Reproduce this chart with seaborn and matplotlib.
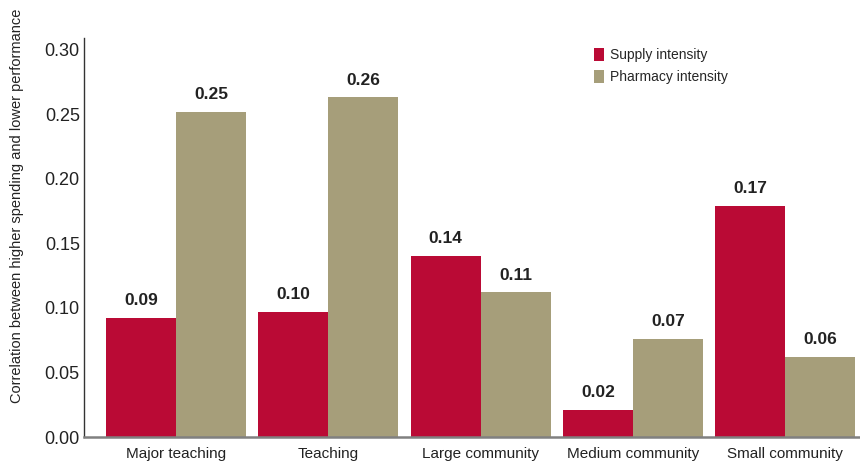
import matplotlib
matplotlib.use("Agg")
import matplotlib.pyplot as plt
import seaborn as sns
import pandas as pd
from matplotlib.patches import Patch

categories = ["Major teaching", "Teaching", "Large community", "Medium community", "Small community"]
supply = [0.092, 0.097, 0.140, 0.021, 0.179]
pharmacy = [0.252, 0.263, 0.112, 0.076, 0.062]
supply_labels = ["0.09", "0.10", "0.14", "0.02", "0.17"]
pharmacy_labels = ["0.25", "0.26", "0.11", "0.07", "0.06"]
series = ["Supply intensity", "Pharmacy intensity"]
yticks = [0.00, 0.05, 0.10, 0.15, 0.20, 0.25, 0.30]
ylabel = "Correlation between higher spending and lower performance"

colors = ["#BA0A35", "#A69E7A"]

sns.set_theme(style="white")
plt.rcParams["font.family"] = ["Liberation Sans", "DejaVu Sans"]

df = pd.DataFrame({
    "category": categories * 2,
    "series": [series[0]] * len(categories) + [series[1]] * len(categories),
    "value": supply + pharmacy,
})

fig = plt.figure(figsize=(8.6, 4.62), dpi=100)
ax = fig.add_axes([0.0977, 0.054, 0.902, 0.864])

sns.barplot(data=df, x="category", y="value", hue="series", order=categories,
            hue_order=series, palette=colors, width=0.92, saturation=1,
            errorbar=None, ax=ax, legend=False, linewidth=0)

ax.set_xlim(-0.605, 4.49)
ax.set_ylim(0, 0.309)
ax.set_yticks(yticks)
ax.set_yticklabels([f"{t:.2f}" for t in yticks], fontsize=13, color="#222222")
ax.tick_params(axis="x", labelsize=11, colors="#222222", length=0, pad=7)
ax.tick_params(axis="y", length=0, pad=3)
ax.set_xlabel("")
ax.set_ylabel(ylabel, fontsize=10.5, color="#222222")
ax.yaxis.set_label_coords(-0.078, 0.579)

for s in ["top", "right"]:
    ax.spines[s].set_visible(False)
ax.spines["left"].set_color("#333333")
ax.spines["left"].set_linewidth(1.0)
ax.spines["bottom"].set_color("#808080")
ax.spines["bottom"].set_linewidth(1.8)

labels_all = [supply_labels, pharmacy_labels]
for cont, labs in zip(ax.containers, labels_all):
    ax.bar_label(cont, labels=labs, padding=7, fontsize=12.5, fontweight="bold", color="#222222")

handles = [Patch(facecolor=c, edgecolor="none") for c in colors]
leg = ax.legend(handles, series, loc="upper left", bbox_to_anchor=(0.657, 0.975),
                frameon=False, fontsize=10, handlelength=0.75, handleheight=1.05,
                handletextpad=0.45, labelspacing=0.55, borderaxespad=0, borderpad=0)

fig.savefig("out.png", dpi=100)
